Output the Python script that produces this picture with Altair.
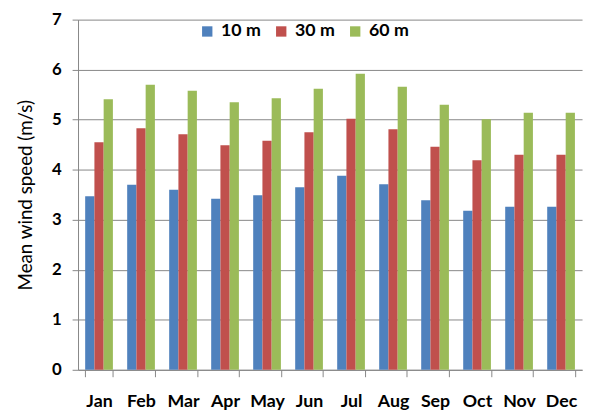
import altair as alt
import pandas as pd

months = ["Jan", "Feb", "Mar", "Apr", "May", "Jun", "Jul", "Aug", "Sep", "Oct", "Nov", "Dec"]
heights = ["10 m", "30 m", "60 m"]
speed_10m = [3.47, 3.70, 3.60, 3.42, 3.49, 3.65, 3.88, 3.71, 3.39, 3.18, 3.26, 3.26]
speed_30m = [4.55, 4.83, 4.71, 4.49, 4.58, 4.75, 5.02, 4.81, 4.46, 4.19, 4.30, 4.30]
speed_60m = [5.41, 5.70, 5.58, 5.35, 5.43, 5.62, 5.92, 5.66, 5.30, 5.01, 5.14, 5.14]
colors = ["#4F81BD", "#C0504D", "#9BBB59"]

rows = []
for h, vals in zip(heights, [speed_10m, speed_30m, speed_60m]):
    for m, v in zip(months, vals):
        rows.append({"month": m, "height": h, "speed": v})
df = pd.DataFrame(rows)

font = "Lato"

chart = alt.Chart(df).mark_bar().encode(
    x=alt.X("month:N", sort=months, title=None,
            scale=alt.Scale(paddingInner=0.34, paddingOuter=0.17),
            axis=alt.Axis(labelAngle=0, labelFontSize=18, labelFontWeight="bold",
                          labelColor="#000", labelPadding=16, tickBand="extent",
                          tickSize=7, tickColor="#868686", domainColor="#868686",
                          labelFont=font)),
    xOffset=alt.XOffset("height:N", sort=heights),
    y=alt.Y("speed:Q", title="Mean wind speed (m/s)",
            scale=alt.Scale(domain=[0, 7]),
            axis=alt.Axis(values=[0, 1, 2, 3, 4, 5, 6, 7], format="d",
                          labelFontSize=17, labelFontWeight="bold", labelColor="#000",
                          labelPadding=11, tickSize=6, tickColor="#868686",
                          domainColor="#868686", gridColor="#868686",
                          titleFontSize=19, titleFontWeight="normal", titleColor="#000",
                          titlePadding=16, labelFont=font, titleFont=font)),
    color=alt.Color("height:N", sort=heights,
                    scale=alt.Scale(domain=heights, range=colors),
                    legend=alt.Legend(title=None, orient="none", legendX=122, legendY=3,
                                      direction="horizontal", symbolType="square",
                                      symbolSize=110, symbolStrokeWidth=0,
                                      labelFontSize=18, labelFontWeight="bold",
                                      labelColor="#000", labelFont=font,
                                      columnPadding=11, labelOffset=5)),
).properties(
    width=511, height=355,
    autosize=alt.AutoSizeParams(type="none"),
    padding={"left": 71, "top": 9, "right": 5, "bottom": 40},
).configure_view(stroke=None).configure_axis(gridWidth=1)

chart.save("out.html", embed_options={"renderer": "svg", "actions": False})
